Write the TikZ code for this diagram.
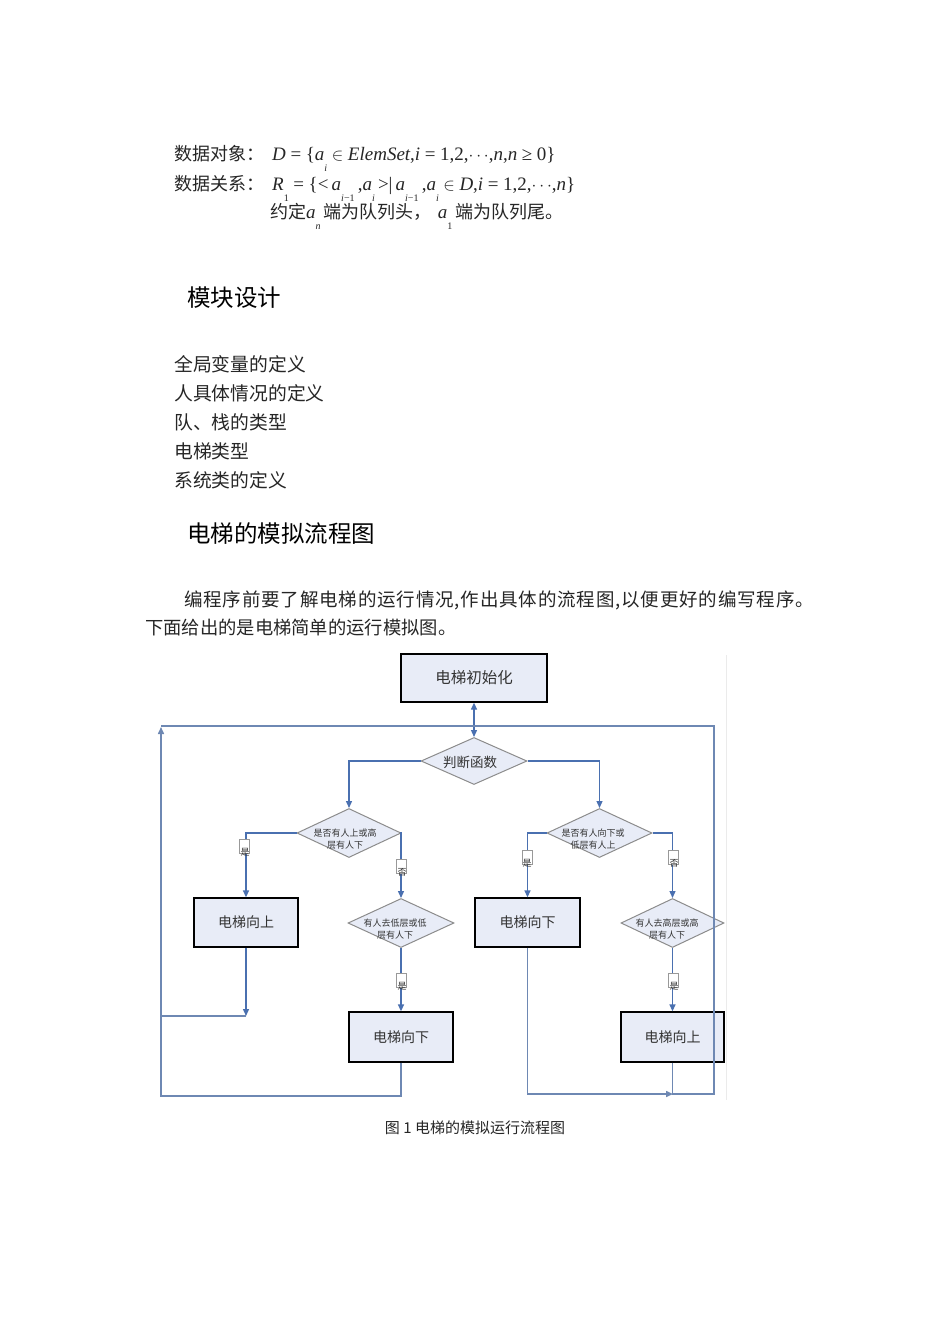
\documentclass[tikz,border=0pt]{standalone}
\usepackage{fontspec}
\setmainfont{Liberation Serif}
\newfontfamily\cjk{Noto Sans CJK SC}
\usetikzlibrary{shapes.geometric,arrows.meta}
\definecolor{boxfill}{HTML}{E8ECF7}
\definecolor{lineblue}{HTML}{4A70B0}
\definecolor{loopblue}{HTML}{6E88B3}
\newcommand\lsub[1]{\raisebox{-11pt}{\fontsize{10}{10}\selectfont #1}}
\newcommand\opsp{\hspace{4.6pt}}
\begin{document}
\begin{tikzpicture}[x=1pt,y=-1pt,
  body/.style={anchor=west, inner sep=0pt, text=black!85, font=\cjk\fontsize{18.8}{18.8}\selectfont},
  mathline/.style={anchor=west, inner sep=0pt, text=black!85, font=\rmfamily\fontsize{19}{19}\selectfont},
  head/.style={anchor=west, inner sep=0pt, text=black, font=\cjk\fontsize{23.5}{23.5}\selectfont},
  box/.style={draw=black, line width=1.3pt, fill=boxfill, inner sep=0pt, text=black!80, font=\cjk\fontsize{14}{14}\selectfont},
  dia/.style={diamond, draw=black!45, line width=1pt, fill=boxfill, inner sep=0pt, aspect=2.2},
  dtext/.style={inner sep=0pt, align=center, text=black!80, font=\cjk\fontsize{9}{12}\selectfont},
  flow/.style={draw=lineblue, line width=1.3pt, -{Triangle[length=7pt,width=6pt]}},
  loopline/.style={draw=loopblue, line width=1.5pt},
  loopflow/.style={draw=loopblue, line width=1.5pt, -{Triangle[length=7pt,width=6pt]}},
  lab/.style={draw=black!40, fill=white, minimum width=10pt, minimum height=14pt, inner sep=0pt, line width=0.6pt},
  labt/.style={inner sep=0pt, text=black!80, font=\cjk\fontsize{9}{9}\selectfont}
]
\useasboundingbox (0,0) rectangle (950,1344);
\fill[white] (0,0) rectangle (950,1344);

% ---- top text ----
\node[mathline] (d1) at (174,158) {{\cjk\fontsize{18}{18}\selectfont 数据对象：}\hspace{8pt}\textit{D}\opsp=\opsp\{\textit{a}\lsub{\textit{i}}\opsp$\in$\opsp\textit{ElemSet},\textit{i}\opsp=\opsp1,2,$\cdots$,\textit{n},\textit{n}\opsp≥\opsp0\}};
\node[mathline] (d2) at (174,188) {{\cjk\fontsize{18}{18}\selectfont 数据关系：}\hspace{8pt}\textit{R}\lsub{1}\opsp=\opsp\{<\,\textit{a}\lsub{\textit{i}−1}\,,\textit{a}\lsub{\textit{i}}\,>|\,\textit{a}\lsub{\textit{i}−1}\,,\textit{a}\lsub{\textit{i}}\opsp$\in$\opsp\textit{D},\textit{i}\opsp=\opsp1,2,$\cdots$,\textit{n}\}};
\node[mathline] (d3) at (270,216) {{\cjk\fontsize{18}{18}\selectfont 约定}\textit{a}\lsub{\textit{n}}\,{\cjk\fontsize{18}{18}\selectfont 端为队列头，}\hspace{6pt}\textit{a}\lsub{1}\,{\cjk\fontsize{18}{18}\selectfont 端为队列尾。}};

\node[head] (h1) at (187,298) {模块设计};
\node[body] (m1) at (174,364) {全局变量的定义};
\node[body] (m2) at (174,393) {人具体情况的定义};
\node[body] (m3) at (174,422) {队、栈的类型};
\node[body] (m4) at (174,451) {电梯类型};
\node[body] (m5) at (174,480) {系统类的定义};
\node[head] (h2) at (187,534) {电梯的模拟流程图};

\node[body, font=\cjk\fontsize{18.5}{18.5}\selectfont\addfontfeatures{LetterSpace=4.5}] (p1) at (184,600) {编程序前要了解电梯的运行情况,作出具体的流程图,以便更好的编写程序。};
\node[body, font=\cjk\fontsize{18.3}{18.3}\selectfont] (p2) at (145,628) {下面给出的是电梯简单的运行模拟图。};

% ---- flowchart ----
\draw[black!8, line width=0.8pt] (726,655) -- (726,1100);

\node[box, minimum width=146pt, minimum height=48pt, font=\cjk\fontsize{15.5}{15.5}\selectfont] (init) at (474,678) {电梯初始化};
\node[dia, minimum width=106pt, minimum height=47pt] (judge) at (474,761) {};
\node[inner sep=0pt, text=black!80, font=\cjk\fontsize{13.5}{13.5}\selectfont] (judget) at (470,762) {判断函数};

\node[dia, minimum width=104pt, minimum height=49pt] (L1) at (349,833) {};
\node[dtext] (L1t) at (345,839) {是否有人上或高\\层有人下};
\node[dia, minimum width=106pt, minimum height=49pt] (L2) at (401,923) {};
\node[dtext] (L2t) at (395,929) {有人去低层或低\\层有人下};
\node[dia, minimum width=105pt, minimum height=49pt] (R1) at (599.5,833) {};
\node[dtext] (R1t) at (593,839) {是否有人向下或\\低层有人上};
\node[dia, minimum width=103pt, minimum height=49pt] (R2) at (672.5,923) {};
\node[dtext] (R2t) at (667,929) {有人去高层或高\\层有人下};

\node[box, minimum width=104pt, minimum height=49pt] (upL) at (246,922.5) {电梯向上};
\node[box, minimum width=104pt, minimum height=50pt] (downL) at (401,1037) {电梯向下};
\node[box, minimum width=105pt, minimum height=49pt] (downR) at (527.5,922.5) {电梯向下};
\node[box, minimum width=103pt, minimum height=50pt] (upR) at (672.5,1037) {电梯向上};

% connectors
\draw[flow, {Triangle[length=7pt,width=6pt]}-{Triangle[length=7pt,width=6pt]}] (init.south) -- (judge.north);
\draw[flow] (judge.west) -| (L1.north);
\draw[flow] (judge.east) -| (R1.north);
\draw[flow] (L1.west) -| (upL.north);
\draw[flow] (L1.east) -| (L2.north);
\draw[flow] (L2.south) -- (downL.north);
\draw[flow] (R1.west) -| (downR.north);
\draw[flow] (R1.east) -| (R2.north);
\draw[flow] (R2.south) -- (upR.north);

% loops
\coordinate (lb) at (246,1016);
\coordinate (ll) at (161,1016);
\coordinate (LB) at (161,1096);
\coordinate (LT) at (161,727);
\coordinate (TL) at (161,726);
\coordinate (top) at (474,726);
\coordinate (RT) at (714,726);
\coordinate (RB) at (714,1094);
\coordinate (RBm) at (673,1094);

\draw[flow] (upL.south) -- (lb);
\draw[loopline] (lb) -- (ll);
\draw[loopflow] (downL.south) |- (LB) -- (LT);
\draw[loopline] (TL) -- (top);
\draw[loopline] (upR.south) |- (RB) -- (RT) -- (top);
\draw[loopflow] (downR.south) |- (RBm);

% yes / no labels
\node[lab] (y1) at (244,846) {};
\node[labt] (y1t) at (245,852) {是};
\node[lab] (n1) at (401,866) {};
\node[labt] (n1t) at (402,872) {否};
\node[lab] (y2) at (527,857) {};
\node[labt] (y2t) at (527,863) {是};
\node[lab] (n2) at (673,857) {};
\node[labt] (n2t) at (674,863) {否};
\node[lab] (y3) at (401,980) {};
\node[labt] (y3t) at (402,986) {是};
\node[lab] (y4) at (673,980) {};
\node[labt] (y4t) at (674,986) {是};

\node[inner sep=0pt, text=black!85, font=\cjk\fontsize{15}{15}\selectfont] (cap) at (475,1128) {图 1 电梯的模拟运行流程图};
\end{tikzpicture}
\end{document}
